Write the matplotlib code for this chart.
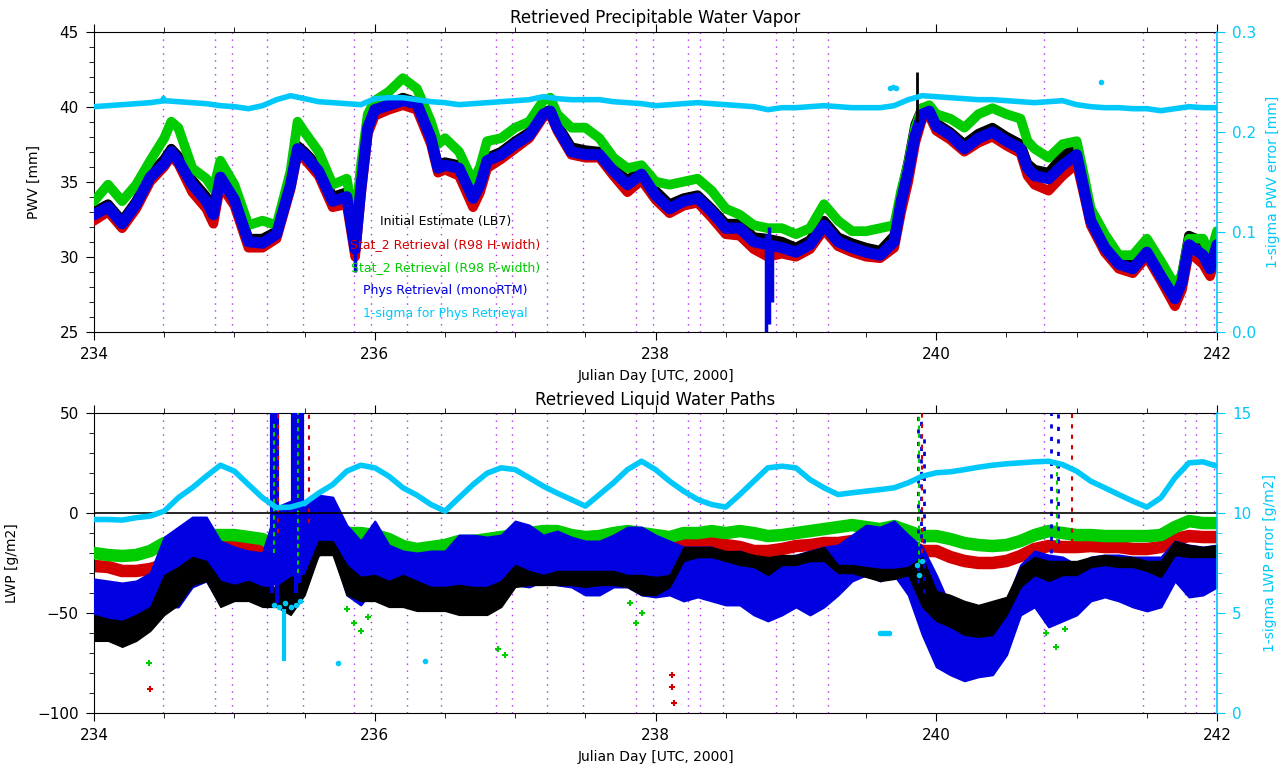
# PWV / LWP retrievals, days 234-242
import matplotlib
matplotlib.use('Agg')
import matplotlib.pyplot as plt
import numpy as np
from matplotlib.ticker import MultipleLocator, FormatStrFormatter

plt.rcParams['font.family'] = ['DejaVu Sans']

# ---------------- upper panel : PWV [mm] ----------------
pwv_day = [234.0, 234.1, 234.2, 234.3, 234.4, 234.5, 234.55, 234.6, 234.7, 234.8, 234.85, 234.9,
           235.0, 235.1, 235.2, 235.3, 235.4, 235.45, 235.5, 235.6, 235.7, 235.8, 235.86, 235.9, 235.95,
           236.0, 236.1, 236.2, 236.3, 236.4, 236.45, 236.5, 236.6, 236.7, 236.75, 236.8, 236.9,
           237.0, 237.1, 237.2, 237.25, 237.3, 237.4, 237.5, 237.6, 237.7, 237.8, 237.9,
           238.0, 238.1, 238.2, 238.3, 238.4, 238.5, 238.6, 238.7, 238.8, 238.9,
           239.0, 239.1, 239.2, 239.3, 239.4, 239.5, 239.6, 239.7, 239.75, 239.8, 239.85, 239.9, 239.95,
           240.0, 240.1, 240.2, 240.3, 240.4, 240.5, 240.6, 240.65, 240.7, 240.8, 240.9,
           241.0, 241.05, 241.1, 241.2, 241.3, 241.4, 241.5, 241.6, 241.7, 241.75, 241.8, 241.9, 241.95,
           242.0]
pwv_black = [33.0, 33.5, 32.4, 33.7, 35.5, 36.5, 37.2, 36.7, 35.1, 34.0, 33.1, 35.7,
             34.2, 31.2, 31.2, 31.7, 35.0, 37.4, 37.0, 36.0, 34.0, 34.3, 30.9, 34.9, 38.8,
             39.9, 40.2, 40.6, 40.3, 38.1, 36.1, 36.3, 36.1, 34.1, 35.0, 36.6, 37.0,
             37.7, 38.3, 39.6, 39.8, 38.8, 37.3, 37.1, 37.0, 35.9, 35.1, 35.8,
             34.4, 33.5, 33.9, 34.1, 33.2, 32.2, 32.2, 31.3, 31.2, 31.0,
             30.6, 31.1, 32.4, 31.3, 30.9, 30.6, 30.4, 31.4, 34.2, 36.3, 38.8, 39.9, 40.0,
             38.9, 38.3, 37.5, 38.2, 38.6, 38.0, 37.5, 36.2, 35.8, 35.6, 36.7,
             37.3, 34.9, 32.6, 30.8, 29.7, 29.4, 30.5, 28.9, 27.5, 28.8, 31.4, 31.0, 30.0,
             31.3]
pwv_red = [32.4, 33.0, 31.9, 33.2, 35.0, 36.0, 36.7, 36.2, 34.3, 33.2, 32.2, 34.8,
           33.4, 30.6, 30.6, 31.2, 34.5, 36.9, 36.5, 35.4, 33.3, 33.5, 30.0, 34.0, 38.2,
           39.4, 39.8, 40.1, 39.8, 37.5, 35.6, 35.8, 35.4, 33.3, 34.3, 35.9, 36.5,
           37.2, 37.9, 39.3, 39.5, 38.4, 36.8, 36.6, 36.6, 35.4, 34.3, 35.1,
           33.8, 32.9, 33.4, 33.6, 32.6, 31.5, 31.4, 30.5, 30.0, 30.2,
           30.0, 30.5, 31.8, 30.7, 30.3, 30.0, 29.9, 30.6, 33.0, 35.0, 37.6, 39.2, 39.4,
           38.4, 37.8, 37.0, 37.6, 38.0, 37.4, 36.9, 35.4, 34.8, 34.4, 35.4,
           36.2, 34.2, 32.1, 30.3, 29.2, 28.9, 30.0, 28.4, 26.7, 27.8, 30.3, 29.5, 28.7,
           30.3]
pwv_green = [33.7, 34.8, 33.7, 34.8, 36.4, 37.9, 39.0, 38.6, 35.9, 35.2, 34.5, 36.4,
             34.8, 32.1, 32.4, 32.1, 35.7, 39.0, 38.3, 37.0, 34.8, 35.2, 32.0, 36.0, 39.5,
             40.4, 41.0, 41.9, 41.2, 39.0, 37.5, 37.9, 37.0, 35.0, 36.0, 37.7, 37.9,
             38.6, 39.0, 40.4, 40.6, 39.5, 38.6, 38.6, 37.9, 36.6, 35.9, 36.1,
             35.0, 34.8, 35.0, 35.2, 34.4, 33.2, 32.8, 32.1, 31.9, 31.9,
             31.5, 31.9, 33.5, 32.4, 31.7, 31.7, 31.9, 32.1, 34.4, 36.2, 38.6, 39.9, 40.1,
             39.5, 39.2, 38.6, 39.5, 39.9, 39.5, 39.2, 37.7, 37.2, 36.6, 37.5,
             37.7, 35.5, 33.2, 31.5, 30.1, 30.1, 31.2, 29.7, 28.1, 28.8, 31.2, 31.2, 30.1,
             31.7]
pwv_blue = [32.8, 33.3, 32.2, 33.5, 35.3, 36.2, 37.0, 36.4, 34.8, 33.7, 32.8, 35.3,
            33.8, 31.0, 30.9, 31.5, 34.8, 37.2, 36.8, 35.7, 33.7, 34.0, 30.5, 34.5, 38.6,
            39.8, 40.1, 40.4, 40.2, 37.9, 35.9, 36.1, 35.9, 33.9, 34.8, 36.4, 36.8,
            37.5, 38.1, 39.5, 39.7, 38.6, 37.0, 36.8, 36.8, 35.7, 34.8, 35.5,
            34.1, 33.2, 33.7, 33.9, 33.0, 31.9, 31.9, 31.0, 30.8, 30.6,
            30.3, 30.8, 32.1, 31.0, 30.6, 30.3, 30.1, 31.0, 33.7, 35.7, 38.1, 39.5, 39.7,
            38.7, 38.1, 37.2, 37.9, 38.3, 37.7, 37.2, 35.9, 35.4, 35.2, 36.1,
            36.8, 34.6, 32.4, 30.6, 29.5, 29.2, 30.3, 28.7, 27.2, 28.3, 30.8, 30.1, 29.2,
            30.8]
# short vertical excursions
pwv_spike_day = [235.86, 238.79, 238.81, 238.83]
pwv_spike_lo = [29.0, 25.0, 25.5, 27.0]
pwv_spike_hi = [33.0, 31.5, 32.0, 31.0]
pwv_black_spike_day = [239.86]
pwv_black_spike_lo = [39.0]
pwv_black_spike_hi = [42.3]

# 1-sigma PWV error [mm], every 0.1 day
sig_day = np.linspace(234.0, 242.0, 81)
sig_pwv = [0.225, 0.226, 0.227, 0.228, 0.229, 0.231, 0.230, 0.229, 0.228, 0.226,
           0.225, 0.223, 0.226, 0.232, 0.236, 0.233, 0.230, 0.229, 0.228, 0.227,
           0.233, 0.234, 0.234, 0.232, 0.230, 0.229, 0.227, 0.228, 0.229, 0.230,
           0.231, 0.232, 0.235, 0.233, 0.232, 0.232, 0.232, 0.230, 0.229, 0.228,
           0.226, 0.227, 0.228, 0.229, 0.228, 0.227, 0.226, 0.225, 0.222, 0.224,
           0.224, 0.225, 0.226, 0.225, 0.224, 0.224, 0.224, 0.226, 0.232, 0.236,
           0.235, 0.234, 0.233, 0.232, 0.232, 0.231, 0.230, 0.229, 0.230, 0.231,
           0.227, 0.225, 0.224, 0.224, 0.223, 0.223, 0.221, 0.223, 0.225, 0.224,
           0.224]
sig_pwv_extra_day = [234.49, 239.67, 239.69, 239.71, 241.17]
sig_pwv_extra = [0.234, 0.244, 0.245, 0.244, 0.250]

# ---------------- lower panel : LWP [g/m2] ----------------
lwp_day = np.linspace(234.0, 242.0, 81)
lwp_green = [-20, -21, -21.5, -21, -19, -15, -14, -12, -11, -11,
             -11, -12, -13, -17, -19, -21, -17, -14, -10, -10,
             -11, -13, -16.5, -18, -17, -16, -14, -14, -13, -12,
             -11, -10, -9, -9, -11, -12, -11.5, -10, -9, -10,
             -11, -12, -10, -10, -9, -10, -9, -10, -11.5, -11,
             -10, -9, -8, -7, -6, -7, -8, -6.5, -9, -11.5,
             -11.5, -13, -15, -16, -16.5, -16, -14, -11, -9, -10,
             -11, -11, -11.5, -11.5, -11.5, -11.5, -11, -7, -4, -5,
             -5]
lwp_red = [-26.5, -27, -29, -29, -28, -26, -17, -16, -16, -15,
           -16, -17, -18, -19, -21, -21, -17, -16, -15, -16,
           -16, -21, -24, -24, -23, -22, -21.5, -21, -21, -20,
           -19, -17, -16.5, -17, -19, -20, -19, -17, -17, -18,
           -17, -18, -16, -16, -15, -16, -17, -19, -19, -18,
           -16.5, -16, -15, -15, -14, -16, -17, -16, -16, -19,
           -19, -22, -24, -25, -25, -24, -21.5, -18, -16.5, -17,
           -17, -16.5, -17, -17, -18, -18, -17, -13, -11.5, -12,
           -12]
lwp_blue_hi = [-33, -34, -35, -34, -30, -12, -7, -2, -2, -14,
               -17, -19, -20, 3, 6, 3, 9, 8, -6, -14,
               -4, -16, -19, -20, -19, -19, -11, -11, -12, -11,
               -4, -6, -11, -9, -12, -14, -14, -11, -7, -7,
               -11, -14, -17, -17, -17, -21, -19, -22, -24, -22,
               -21, -19, -17, -16, -11, -6, -7, -4, -11, -17,
               -31, -47, -51, -52, -51, -44, -26, -19, -21, -22,
               -26, -22, -21, -21, -22, -22, -22, -14, -16, -17,
               -16]
lwp_blue_lo = [-62, -62, -64, -62, -57, -47, -47, -37, -34, -46,
               -42, -36, -41, -34, -41, -34, -21, -19, -41, -46,
               -37, -41, -37, -41, -39, -41, -42, -41, -42, -41,
               -36, -37, -34, -36, -37, -41, -41, -37, -37, -41,
               -42, -41, -44, -42, -44, -46, -46, -51, -54, -51,
               -47, -51, -47, -41, -34, -31, -34, -31, -41, -61,
               -77, -81, -84, -82, -81, -71, -51, -47, -57, -54,
               -51, -44, -42, -44, -47, -49, -47, -34, -42, -41,
               -37]
lwp_black_hi = [-51, -53, -54, -51, -47, -31, -27, -22, -24, -34,
                -36, -34, -37, -37, -32, -31, -14, -14, -26, -32,
                -31, -34, -31, -34, -37, -37, -36, -37, -37, -34,
                -26, -29, -31, -29, -29, -29, -29, -29, -31, -31,
                -32, -31, -17, -17, -17, -19, -19, -21, -22, -21,
                -21, -19, -17, -26, -26, -27, -28, -28, -27, -22,
                -39, -41, -44, -46, -44, -42, -27, -22, -24, -24,
                -24, -22, -21, -22, -22, -24, -24, -14, -16, -17,
                -16]
lwp_black_lo = [-64, -64, -67, -64, -59, -51, -46, -36, -34, -47,
                -44, -44, -47, -47, -51, -41, -21, -21, -41, -44,
                -44, -47, -47, -49, -49, -49, -51, -51, -51, -47,
                -37, -36, -36, -36, -36, -37, -36, -36, -37, -41,
                -41, -37, -24, -22, -22, -24, -26, -27, -31, -26,
                -26, -24, -24, -30, -30, -32, -34, -33, -31, -47,
                -54, -57, -61, -62, -61, -51, -37, -31, -34, -31,
                -31, -27, -26, -27, -27, -29, -32, -21, -22, -22,
                -22]
# contaminated samples (vertical streaks)
lwp_blue_spike_day = [235.27, 235.29, 235.30, 235.42, 235.44, 235.46, 235.48]
lwp_blue_spike_lo = [-40, -35, -45, -30, -40, -35, -30]
lwp_blue_spike_hi = [50, 50, 50, 50, 50, 50, 50]
lwp_blue_dots_day = [239.87, 239.89, 239.91, 240.82, 240.87]
lwp_blue_dots_lo = [-35, -25, -40, -20, -15]
lwp_blue_dots_hi = [50, 50, 40, 50, 50]
lwp_red_spike_day = [235.31, 235.53, 239.90, 240.97]
lwp_red_spike_lo = [-10, -5, -20, -15]
lwp_red_spike_hi = [50, 50, 50, 50]
lwp_green_spike_day = [235.28, 235.45, 239.88, 240.86]
lwp_green_spike_lo = [-20, -30, -25, -15]
lwp_green_spike_hi = [45, 50, 50, 25]
lwp_green_out_day = [234.39, 235.80, 235.85, 235.90, 235.95, 236.88, 236.93,
                     237.82, 237.86, 237.90, 240.78, 240.85, 240.92]
lwp_green_out = [-75, -48, -55, -59, -52, -68, -71, -45, -55, -50, -60, -67, -58]
lwp_red_out_day = [234.40, 238.12, 238.12, 238.13]
lwp_red_out = [-88, -81, -87, -95]

# 1-sigma LWP error [g/m2], every 0.1 day
sig_lwp = [9.68, 9.68, 9.65, 9.77, 9.85, 10.1, 10.77, 11.27, 11.85, 12.4,
           12.1, 11.43, 10.77, 10.27, 10.3, 10.5, 11.0, 11.43, 12.1, 12.4,
           12.27, 11.85, 11.27, 10.9, 10.43, 10.1, 10.77, 11.43, 12.0, 12.27,
           12.18, 11.77, 11.35, 11.0, 10.68, 10.35, 10.93, 11.52, 12.18, 12.6,
           12.18, 11.6, 11.1, 10.68, 10.43, 10.3, 10.93, 11.6, 12.27, 12.35,
           12.27, 11.68, 11.27, 10.93, 11.02, 11.1, 11.18, 11.27, 11.52, 11.85,
           12.02, 12.07, 12.18, 12.3, 12.4, 12.47, 12.52, 12.57, 12.6, 12.43,
           12.1, 11.6, 11.27, 10.93, 10.6, 10.3, 10.77, 11.77, 12.52, 12.57,
           12.35]
sig_lwp_extra_day = [235.28, 235.32, 235.36, 235.40, 235.44, 235.47, 235.74, 236.36,
                     239.60, 239.62, 239.64, 239.66, 239.86, 239.88, 239.90]
sig_lwp_extra = [5.4, 5.3, 5.5, 5.3, 5.4, 5.6, 2.5, 2.6, 4.0, 4.0, 4.0, 4.0, 7.4, 6.9, 7.6]
sig_lwp_streak_day = [235.35]
sig_lwp_streak_lo = [2.6]
sig_lwp_streak_hi = [5.2]

# days with dotted markers
mark_days = [234.49, 234.86, 234.98, 235.23, 235.49, 235.85, 235.97, 236.23, 236.47,
             236.86, 236.98, 237.23, 237.48, 237.86, 237.98, 238.23, 238.32, 238.48,
             238.86, 238.98, 239.23, 240.77, 241.47, 241.77, 241.85, 241.98]

legend_labels = ['Initial Estimate (LB7)', 'Stat_2 Retrieval (R98 H-width)',
                 'Stat_2 Retrieval (R98 R-width)', 'Phys Retrieval (monoRTM)',
                 '1-sigma for Phys Retrieval']

BLACK = '#000000'
RED = '#d40000'
GREEN = '#00cc00'
BLUE = '#0000e0'
CYAN = '#00c8fa'
VIOLET = '#b030f0'


def style_axes(ax, axr, ylim, ymaj, ymin, yrlim, yrmaj, yrmin, yrfmt):
    ax.set_xlim(234, 242)
    ax.set_ylim(*ylim)
    ax.xaxis.set_major_locator(MultipleLocator(2))
    ax.xaxis.set_minor_locator(MultipleLocator(0.5))
    ax.yaxis.set_major_locator(MultipleLocator(ymaj))
    ax.yaxis.set_minor_locator(MultipleLocator(ymin))
    ax.tick_params(which='both', direction='out', top=True, right=False, labelsize=11, pad=5)
    ax.tick_params(which='major', length=6)
    ax.tick_params(which='minor', length=3.5)
    ax.spines['right'].set_visible(False)
    axr.set_ylim(*yrlim)
    axr.yaxis.set_major_locator(MultipleLocator(yrmaj))
    axr.yaxis.set_minor_locator(MultipleLocator(yrmin))
    axr.yaxis.set_major_formatter(FormatStrFormatter(yrfmt))
    axr.tick_params(which='both', direction='out', colors=CYAN, labelsize=11, pad=5)
    axr.tick_params(which='major', length=6)
    axr.tick_params(which='minor', length=3.5)
    axr.spines['right'].set_color(CYAN)
    axr.spines['right'].set_linewidth(1.2)
    for s in ['left', 'top', 'bottom']:
        axr.spines[s].set_visible(False)
    for d in mark_days:
        ax.axvline(d, color=VIOLET, lw=1.0, ls=(0, (1, 4)), zorder=0.5)


fig = plt.figure(figsize=(12.83, 7.65), dpi=100)

# ---- upper panel ----
ax1 = fig.add_axes([0.0733, 0.5664, 0.8753, 0.3922])
ax1r = ax1.twinx()
style_axes(ax1, ax1r, (25, 45), 5, 1, (0.0, 0.3), 0.1, 0.01, '%.1f')

kw = dict(solid_joinstyle='round', solid_capstyle='round')
ax1.plot(pwv_day, pwv_black, color=BLACK, lw=7, zorder=2, **kw)
ax1.plot(pwv_day, pwv_red, color=RED, lw=7, zorder=3, **kw)
ax1.plot(pwv_day, pwv_green, color=GREEN, lw=7, zorder=4, **kw)
ax1.plot(pwv_day, pwv_blue, color=BLUE, lw=8, zorder=5, **kw)
ax1.vlines(pwv_spike_day, pwv_spike_lo, pwv_spike_hi, color=BLUE, lw=2.5, zorder=5)
ax1.vlines(pwv_black_spike_day, pwv_black_spike_lo, pwv_black_spike_hi, color=BLACK, lw=2, zorder=5)
ax1r.plot(sig_day, sig_pwv, color=CYAN, lw=4, **kw)
ax1r.plot(sig_pwv_extra_day, sig_pwv_extra, 'o', color=CYAN, ms=3)

ax1.set_title('Retrieved Precipitable Water Vapor', fontsize=12, pad=6)
ax1.set_xlabel('Julian Day [UTC, 2000]', fontsize=10)
ax1.set_ylabel('PWV [mm]', fontsize=10)
ax1r.set_ylabel('1-sigma PWV error [mm]', fontsize=10, color=CYAN)
ax1.xaxis.set_label_coords(0.5, -0.125)
ax1.yaxis.set_label_coords(-0.047, 0.5)
ax1r.yaxis.set_label_coords(1.044, 0.5)

leg_colors = [BLACK, RED, GREEN, BLUE, CYAN]
leg_y = [0.367, 0.289, 0.213, 0.136, 0.061]
for lab, c, yy in zip(legend_labels, leg_colors, leg_y):
    ax1r.text(0.313, yy, lab, color=c, fontsize=9, ha='center', va='center',
              transform=ax1r.transAxes, zorder=10)

# ---- lower panel ----
ax2 = fig.add_axes([0.0733, 0.0684, 0.8753, 0.3913])
ax2r = ax2.twinx()
style_axes(ax2, ax2r, (-100, 50), 50, 10, (0, 15), 5, 1, '%d')

ax2.plot(lwp_day, lwp_red, color=RED, lw=9, zorder=2, **kw)
ax2.plot(lwp_day, lwp_green, color=GREEN, lw=9, zorder=3, **kw)
ax2.fill_between(lwp_day, lwp_blue_lo, lwp_blue_hi, color=BLUE, lw=1.5, edgecolor=BLUE, zorder=4)
ax2.fill_between(lwp_day, lwp_black_lo, lwp_black_hi, color=BLACK, lw=1, edgecolor=BLACK, zorder=5)
ax2.vlines(lwp_blue_spike_day, lwp_blue_spike_lo, lwp_blue_spike_hi, color=BLUE, lw=3, zorder=6)
ax2.vlines(lwp_blue_dots_day, lwp_blue_dots_lo, lwp_blue_dots_hi, color=BLUE, lw=2,
           ls=(0, (1.5, 3)), zorder=6)
ax2.vlines(lwp_green_spike_day, lwp_green_spike_lo, lwp_green_spike_hi, color=GREEN, lw=1.5,
           ls=(0, (2, 2)), zorder=7)
ax2.vlines(lwp_red_spike_day, lwp_red_spike_lo, lwp_red_spike_hi, color=RED, lw=1.5,
           ls=(0, (2, 3)), zorder=7)
ax2.plot(lwp_green_out_day, lwp_green_out, '+', color=GREEN, ms=5, mew=1.5, zorder=6)
ax2.plot(lwp_red_out_day, lwp_red_out, '+', color=RED, ms=5, mew=1.5, zorder=6)
ax2.axhline(0, color='k', lw=1.2, zorder=8)

ax2r.plot(sig_day, sig_lwp, color=CYAN, lw=4, **kw)
ax2r.plot(sig_lwp_extra_day, sig_lwp_extra, 'o', color=CYAN, ms=3)
ax2r.vlines(sig_lwp_streak_day, sig_lwp_streak_lo, sig_lwp_streak_hi, color=CYAN, lw=3)

ax2.set_title('Retrieved Liquid Water Paths', fontsize=12, pad=6)
ax2.set_xlabel('Julian Day [UTC, 2000]', fontsize=10)
ax2.set_ylabel('LWP [g/m2]', fontsize=10)
ax2r.set_ylabel('1-sigma LWP error [g/m2]', fontsize=10, color=CYAN)
ax2.xaxis.set_label_coords(0.5, -0.125)
ax2.yaxis.set_label_coords(-0.067, 0.5)
ax2r.yaxis.set_label_coords(1.041, 0.5)

fig.savefig('out.png', dpi=100)
